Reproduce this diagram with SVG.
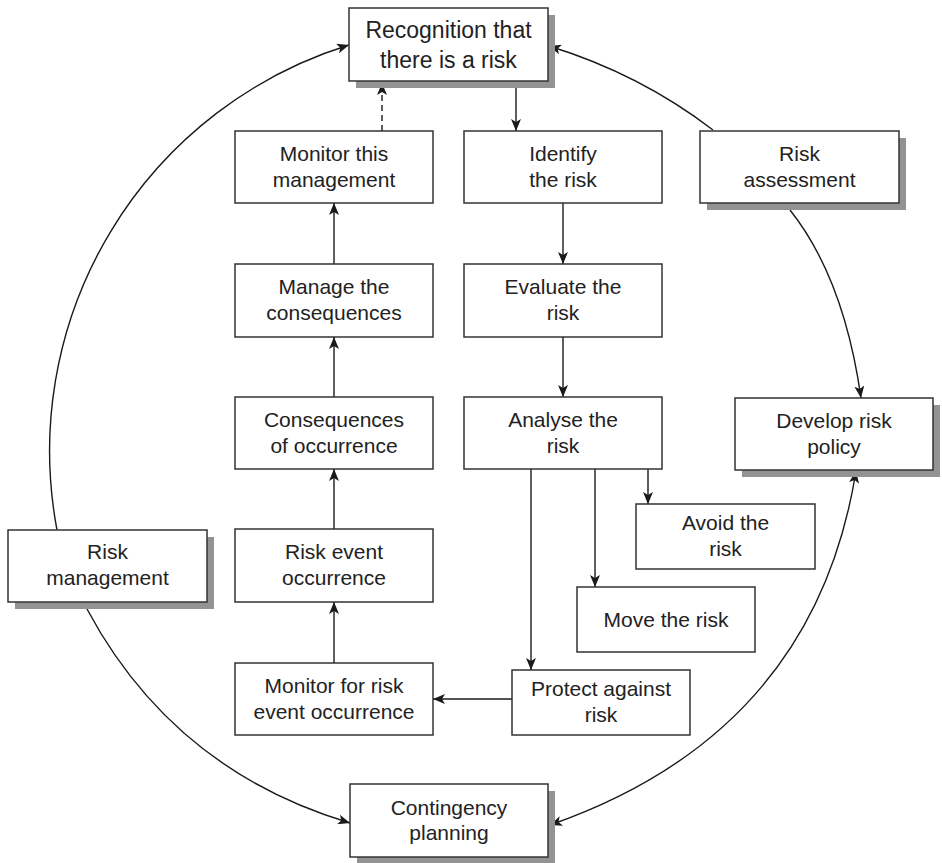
<svg xmlns="http://www.w3.org/2000/svg" width="942" height="863" viewBox="0 0 942 863">
<style>
.box{fill:#fff;stroke:#333;stroke-width:1.5}
.sh{fill:#939393}
.t{font-family:"Liberation Sans",Arial,sans-serif;font-size:21px;fill:#222;text-anchor:middle}
.big{font-size:23px}
.c{fill:none;stroke:#1a1a1a;stroke-width:1.4}
.d{stroke-dasharray:6 4}
</style>
<defs>
<marker id="ah" viewBox="0 0 12 10" refX="12" refY="5" markerWidth="12" markerHeight="10" markerUnits="userSpaceOnUse" orient="auto-start-reverse">
<path d="M0,0 L12,5 L0,10 L3,5 Z" fill="#1a1a1a"/>
</marker>
</defs>
<rect width="942" height="863" fill="#fff"/>

<g id="connectors">
<path class="c" d="M516,81 V131" marker-end="url(#ah)"/>
<path class="c" d="M563,203 V264" marker-end="url(#ah)"/>
<path class="c" d="M563,337 V397" marker-end="url(#ah)"/>
<path class="c" d="M531,469 V670" marker-end="url(#ah)"/>
<path class="c" d="M595,469 V587" marker-end="url(#ah)"/>
<path class="c" d="M648,469 V504" marker-end="url(#ah)"/>
<path class="c" d="M512,699 H433" marker-end="url(#ah)"/>
<path class="c" d="M334,663 V602" marker-end="url(#ah)"/>
<path class="c" d="M334,529 V469" marker-end="url(#ah)"/>
<path class="c" d="M334,397 V337" marker-end="url(#ah)"/>
<path class="c" d="M334,264 V203" marker-end="url(#ah)"/>
<path class="c d" d="M382,131 V83" marker-end="url(#ah)"/>
<path class="c" d="M57,530 A425,425 0 0 1 349,45" marker-end="url(#ah)"/>
<path class="c" d="M713,130 Q640,74 549,46" marker-end="url(#ah)"/>
<path class="c" d="M790,210 Q844,278 861,398" marker-end="url(#ah)"/>
<path class="c" d="M856,471 Q814,733 550,825" marker-start="url(#ah)" marker-end="url(#ah)"/>
<path class="c" d="M87,609 Q173,770 350,823" marker-end="url(#ah)"/>
</g>

<g id="recognition">
<rect class="sh" x="356" y="15" width="199" height="73"/>
<rect class="box" x="349" y="8" width="199" height="73"/>
<text class="t big" x="448.5" y="38">Recognition that</text>
<text class="t big" x="448.5" y="68">there is a risk</text>
</g>

<g id="identify">
<rect class="box" x="464" y="131" width="198" height="72"/>
<text class="t" x="563" y="161">Identify</text>
<text class="t" x="563" y="187">the risk</text>
</g>

<g id="evaluate">
<rect class="box" x="464" y="264" width="198" height="73"/>
<text class="t" x="563" y="294">Evaluate the</text>
<text class="t" x="563" y="320">risk</text>
</g>

<g id="analyse">
<rect class="box" x="464" y="397" width="198" height="72"/>
<text class="t" x="563" y="427">Analyse the</text>
<text class="t" x="563" y="453">risk</text>
</g>

<g id="monitor-this">
<rect class="box" x="235" y="131" width="198" height="72"/>
<text class="t" x="334" y="161">Monitor this</text>
<text class="t" x="334" y="187">management</text>
</g>

<g id="manage">
<rect class="box" x="235" y="264" width="198" height="73"/>
<text class="t" x="334" y="294">Manage the</text>
<text class="t" x="334" y="320">consequences</text>
</g>

<g id="consequences">
<rect class="box" x="235" y="397" width="198" height="72"/>
<text class="t" x="334" y="427">Consequences</text>
<text class="t" x="334" y="453">of occurrence</text>
</g>

<g id="risk-event">
<rect class="box" x="235" y="529" width="198" height="73"/>
<text class="t" x="334" y="559">Risk event</text>
<text class="t" x="334" y="585">occurrence</text>
</g>

<g id="monitor-for">
<rect class="box" x="235" y="663" width="198" height="72"/>
<text class="t" x="334" y="693">Monitor for risk</text>
<text class="t" x="334" y="719">event occurrence</text>
</g>

<g id="protect">
<rect class="box" x="512" y="670" width="178" height="65"/>
<text class="t" x="601" y="696">Protect against</text>
<text class="t" x="601" y="722">risk</text>
</g>

<g id="avoid">
<rect class="box" x="636" y="504" width="179" height="65"/>
<text class="t" x="725.5" y="530">Avoid the</text>
<text class="t" x="725.5" y="556">risk</text>
</g>

<g id="move">
<rect class="box" x="577" y="587" width="178" height="65"/>
<text class="t" x="666" y="627">Move the risk</text>
</g>

<g id="risk-assessment">
<rect class="sh" x="707" y="138" width="199" height="72"/>
<rect class="box" x="700" y="131" width="199" height="72"/>
<text class="t" x="799.5" y="161">Risk</text>
<text class="t" x="799.5" y="187">assessment</text>
</g>

<g id="develop">
<rect class="sh" x="742" y="405" width="198" height="72"/>
<rect class="box" x="735" y="398" width="198" height="72"/>
<text class="t" x="834" y="428">Develop risk</text>
<text class="t" x="834" y="454">policy</text>
</g>

<g id="risk-management">
<rect class="sh" x="15" y="537" width="199" height="72"/>
<rect class="box" x="8" y="530" width="199" height="72"/>
<text class="t" x="107.5" y="559">Risk</text>
<text class="t" x="107.5" y="585">management</text>
</g>

<g id="contingency">
<rect class="sh" x="357" y="791" width="198" height="72"/>
<rect class="box" x="350" y="784" width="198" height="73"/>
<text class="t" x="449" y="815">Contingency</text>
<text class="t" x="449" y="840">planning</text>
</g>
</svg>
